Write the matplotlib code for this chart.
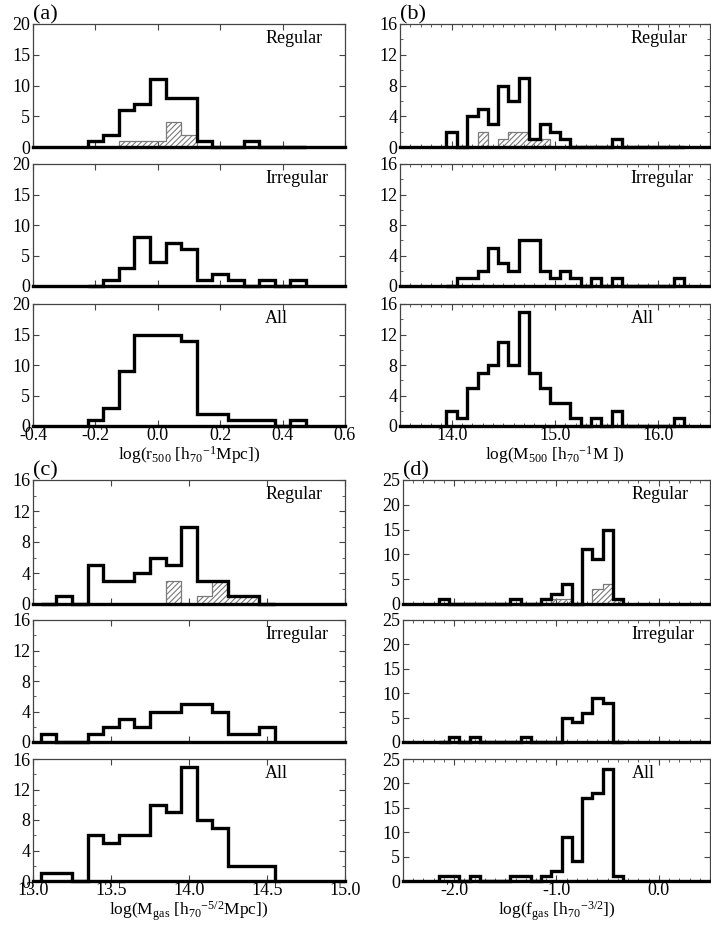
import numpy as np
import matplotlib
matplotlib.use('Agg')
import matplotlib.pyplot as plt
from matplotlib.ticker import MultipleLocator, FormatStrFormatter

plt.rcParams['font.family'] = ['Liberation Serif', 'DejaVu Serif']
plt.rcParams['mathtext.fontset'] = 'custom'
plt.rcParams['mathtext.rm'] = 'Liberation Serif'
plt.rcParams['mathtext.it'] = 'Liberation Serif:italic'
plt.rcParams['axes.unicode_minus'] = False
plt.rcParams['hatch.linewidth'] = 0.8

# ---------------- data ----------------
row_names = ["Regular", "Irregular", "All"]

# (a) log r500, bins of 0.05 starting at -0.225
r500_start, r500_width = -0.225, 0.05
r500_regular = [1, 2, 6, 7, 11, 8, 8, 1, 0, 0, 1, 0, 0, 0]
r500_regular_hatch = [0, 0, 1, 1, 1, 4, 2, 0, 0, 0, 0, 0, 0, 0]
r500_irregular = [0, 1, 3, 8, 4, 7, 6, 1, 2, 1, 0, 1, 0, 1]
r500_all = [1, 3, 9, 15, 15, 15, 14, 2, 2, 1, 1, 1, 0, 1]

# (b) log M500, bins of 0.1 starting at 13.95
m500_start, m500_width = 13.95, 0.1
m500_regular = [2, 0, 4, 5, 3, 8, 6, 9, 1, 3, 2, 1, 0, 0, 0, 0, 1, 0, 0, 0, 0, 0, 0]
m500_regular_hatch = [0, 0, 0, 2, 0, 1, 2, 2, 1, 1, 0, 0, 0, 0, 0, 0, 0, 0, 0, 0, 0, 0, 0]
m500_irregular = [0, 1, 1, 2, 5, 3, 2, 6, 6, 2, 1, 2, 1, 0, 1, 0, 1, 0, 0, 0, 0, 0, 1]
m500_all = [2, 1, 5, 7, 8, 11, 8, 15, 7, 5, 3, 3, 1, 0, 1, 0, 2, 0, 0, 0, 0, 0, 1]

# (c) log Mgas, bins of 0.1 starting at 13.05
mgas_start, mgas_width = 13.05, 0.1
mgas_regular = [0, 1, 0, 5, 3, 3, 4, 6, 5, 10, 3, 3, 1, 1, 0]
mgas_regular_hatch = [0, 0, 0, 0, 0, 0, 0, 0, 3, 0, 1, 3, 1, 1, 0]
mgas_irregular = [1, 0, 0, 1, 2, 3, 2, 4, 4, 5, 5, 4, 1, 1, 2]
mgas_all = [1, 1, 0, 6, 5, 6, 6, 10, 9, 15, 8, 7, 2, 2, 2]

# (d) log fgas, bins of 0.1 starting at -2.15
fgas_start, fgas_width = -2.15, 0.1
fgas_regular = [1, 0, 0, 0, 0, 0, 0, 1, 0, 0, 1, 2, 4, 0, 11, 9, 15, 1]
fgas_regular_hatch = [0, 0, 0, 0, 0, 0, 0, 0, 0, 0, 0, 1, 1, 0, 0, 3, 4, 1]
fgas_irregular = [0, 1, 0, 1, 0, 0, 0, 0, 1, 0, 0, 0, 5, 4, 6, 9, 8, 0]
fgas_all = [1, 1, 0, 1, 0, 0, 0, 1, 1, 0, 1, 2, 9, 4, 17, 18, 23, 1]

panels = [
    dict(tag="(a)", start=r500_start, width=r500_width,
         series=[r500_regular, r500_irregular, r500_all], hatch=r500_regular_hatch,
         xlim=(-0.4, 0.6), xmajor=0.2, xminor=None, ylim=20, ymajor=5, yminor=None,
         xlabel=r"log(r$_{500}$ [h$_{70}$$^{-1}$Mpc])"),
    dict(tag="(b)", start=m500_start, width=m500_width,
         series=[m500_regular, m500_irregular, m500_all], hatch=m500_regular_hatch,
         xlim=(13.5, 16.5), xmajor=1.0, xminor=0.1, ylim=16, ymajor=4, yminor=2,
         xlabel=r"log(M$_{500}$ [h$_{70}$$^{-1}$M ])"),
    dict(tag="(c)", start=mgas_start, width=mgas_width,
         series=[mgas_regular, mgas_irregular, mgas_all], hatch=mgas_regular_hatch,
         xlim=(13.0, 15.0), xmajor=0.5, xminor=None, ylim=16, ymajor=4, yminor=2,
         xlabel=r"log(M$_{\mathrm{gas}}$ [h$_{70}$$^{-5/2}$Mpc])"),
    dict(tag="(d)", start=fgas_start, width=fgas_width,
         series=[fgas_regular, fgas_irregular, fgas_all], hatch=fgas_regular_hatch,
         xlim=(-2.5, 0.5), xmajor=1.0, xminor=0.1, ylim=25, ymajor=5, yminor=None,
         xlabel=r"log(f$_{\mathrm{gas}}$ [h$_{70}$$^{-3/2}$])"),
]

# ---------------- layout ----------------
W, H = 711, 927
fig = plt.figure(figsize=(W / 100, H / 100), dpi=100)

col_geom = {0: (33, 312), 1: (400, 310)}
row_groups = {0: [(24, 123), (164, 122), (304, 122)],
              1: [(480, 124), (620, 122), (759, 122)]}

def rect(left, top, w, h):
    return [left / W, 1 - (top + h) / H, w / W, h / H]

FS = 13
LW = 2.4
for pi, p in enumerate(panels):
    col = pi % 2
    grp = pi // 2
    left, width = col_geom[col]
    if pi == 3:
        left, width = 403, 307
    edges = p["start"] + p["width"] * np.arange(len(p["series"][0]) + 1)
    for ri, (top, h) in enumerate(row_groups[grp]):
        ax = fig.add_axes(rect(left, top, width, h))
        if ri == 0:
            ax.stairs(p["hatch"], edges, fill=True, facecolor='none',
                      edgecolor='#7a7a7a', hatch='//////', lw=0.9, zorder=2)
        st = ax.stairs(p["series"][ri], edges, baseline=0, color='k', lw=LW,
                       zorder=3, clip_on=False)
        st.set_joinstyle('miter')
        ax.axhline(0, color='k', lw=LW, zorder=3, clip_on=False)
        ax.set_xlim(*p["xlim"])
        ax.set_ylim(0, p["ylim"])
        ax.xaxis.set_major_locator(MultipleLocator(p["xmajor"]))
        if p["xminor"]:
            ax.xaxis.set_minor_locator(MultipleLocator(p["xminor"]))
        ax.yaxis.set_major_locator(MultipleLocator(p["ymajor"]))
        if p["yminor"]:
            ax.yaxis.set_minor_locator(MultipleLocator(p["yminor"]))
        ax.xaxis.set_major_formatter(FormatStrFormatter('%.1f'))
        ax.tick_params(which='both', direction='in', top=True, right=True,
                       labelsize=FS, color='#444', pad=2)
        ax.tick_params(axis='x', pad=1)
        ax.tick_params(which='major', length=4, width=0.8)
        ax.tick_params(which='minor', length=2, width=0.6)
        for s in ax.spines.values():
            s.set_linewidth(0.9)
            s.set_color('#444')
        ax.text(0.744, 0.95, row_names[ri], transform=ax.transAxes,
                ha='left', va='top', fontsize=FS)
        if ri < 2:
            ax.tick_params(labelbottom=False)
        else:
            ax.set_xlabel(p["xlabel"], fontsize=12.5, labelpad=0)
        if ri == 0:
            ax.text(0.0, 1.0, p["tag"], transform=ax.transAxes, ha='left',
                    va='bottom', fontsize=16)

fig.savefig('out.png', dpi=100)
